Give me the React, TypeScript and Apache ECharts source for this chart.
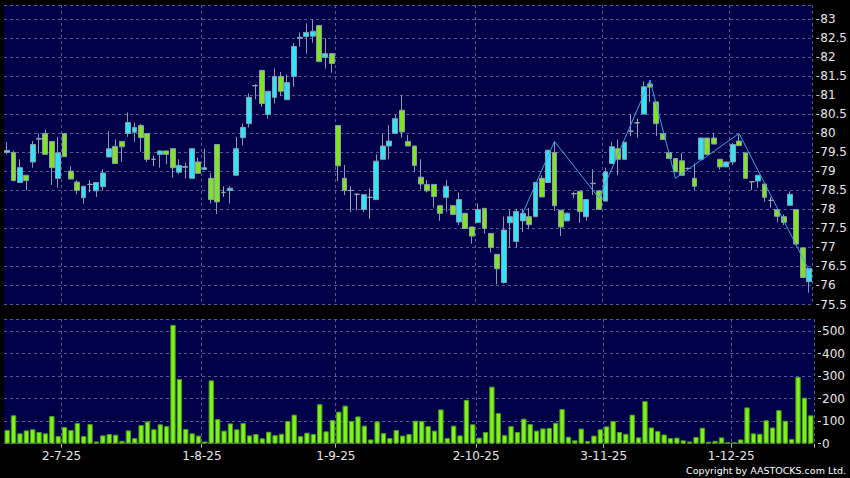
import React, { useEffect, useRef } from "react";
import * as echarts from "echarts";

const dates = [
  "18-6-25","19-6-25","20-6-25","23-6-25","24-6-25","25-6-25","26-6-25","27-6-25","30-6-25",
  "2-7-25","3-7-25","4-7-25","7-7-25","8-7-25","9-7-25","10-7-25","11-7-25","14-7-25","15-7-25","16-7-25","17-7-25","18-7-25","21-7-25","22-7-25","23-7-25","24-7-25","25-7-25","28-7-25","29-7-25","30-7-25","31-7-25",
  "1-8-25","4-8-25","5-8-25","6-8-25","7-8-25","8-8-25","11-8-25","12-8-25","13-8-25","14-8-25","15-8-25","18-8-25","19-8-25","20-8-25","21-8-25","22-8-25","25-8-25","26-8-25","27-8-25","28-8-25","29-8-25",
  "1-9-25","2-9-25","3-9-25","4-9-25","5-9-25","8-9-25","9-9-25","10-9-25","11-9-25","12-9-25","15-9-25","16-9-25","17-9-25","18-9-25","19-9-25","22-9-25","23-9-25","24-9-25","25-9-25","26-9-25","29-9-25","30-9-25",
  "2-10-25","3-10-25","6-10-25","8-10-25","9-10-25","10-10-25","13-10-25","14-10-25","15-10-25","16-10-25","17-10-25","20-10-25","21-10-25","22-10-25","23-10-25","24-10-25","27-10-25","28-10-25","30-10-25","31-10-25",
  "3-11-25","4-11-25","5-11-25","6-11-25","7-11-25","10-11-25","11-11-25","12-11-25","13-11-25","14-11-25","17-11-25","18-11-25","19-11-25","20-11-25","21-11-25","24-11-25","25-11-25","26-11-25","27-11-25","28-11-25",
  "1-12-25","2-12-25","3-12-25","4-12-25","5-12-25","8-12-25","9-12-25","10-12-25","11-12-25","12-12-25","15-12-25","16-12-25","17-12-25"
];

const opens = [
  79.5,79.5,78.71,78.9,79.25,79.85,80.0,79.79,78.82,80.0,
  79.01,78.72,78.31,78.66,78.49,78.6,79.38,79.66,79.79,80.0,
  80.03,80.21,80.0,79.32,79.45,79.54,79.6,78.98,79.11,78.82,
  79.25,79.05,78.82,79.71,78.45,78.5,78.9,79.89,80.26,81.25,
  81.66,80.5,80.95,81.5,80.89,81.5,82.5,82.55,82.56,82.84,
  82.0,82.1,80.21,78.82,78.5,78.4,78.0,78.32,78.26,79.32,
  79.67,80.0,80.61,79.79,79.67,78.85,78.66,78.66,78.1,78.32,
  78.1,77.67,77.9,77.54,77.66,78.03,77.37,76.82,76.08,77.65,
  77.16,77.7,77.81,77.81,78.82,78.71,79.5,77.98,77.7,78.42,
  78.48,77.81,78.68,78.49,78.22,79.21,79.6,79.32,80.06,80.28,
  80.51,81.3,80.83,80.0,79.49,79.34,79.28,79.08,78.82,79.32,
  79.88,79.88,79.32,79.12,79.25,79.8,79.49,78.73,78.75,78.67,
  78.24,78.0,77.81,78.11,78.0,76.99,76.1
];
const closes = [
  79.55,78.76,79.1,78.76,79.71,79.87,79.45,79.1,79.49,79.39,
  78.8,78.5,78.61,78.66,78.71,78.96,79.6,79.21,79.65,80.29,
  80.16,79.89,79.32,79.32,79.54,79.45,79.1,79.16,79.13,79.6,
  78.95,79.1,78.26,78.2,78.45,78.56,79.6,80.16,80.95,81.26,
  80.79,81.11,81.5,81.11,81.34,82.29,82.53,82.66,82.69,81.89,
  82.1,81.84,79.15,78.5,78.5,78.4,78.39,78.32,79.27,79.67,
  79.8,80.39,80.04,79.67,79.16,78.67,78.49,78.34,77.9,78.61,
  77.87,78.26,77.5,77.3,78.0,77.5,77.0,76.44,77.46,77.81,
  77.95,77.9,77.6,78.71,78.33,79.56,78.1,77.54,77.9,78.41,
  77.94,78.26,78.69,78.0,78.99,79.65,79.32,79.77,80.06,80.28,
  81.23,81.22,80.26,79.84,79.34,78.99,78.9,79.08,78.61,79.88,
  79.45,79.72,79.12,79.25,79.71,79.68,78.82,78.73,78.9,78.32,
  78.24,77.82,77.66,78.4,77.09,76.21,76.45
];
const lows = [
  79.45,78.74,78.7,78.5,79.1,79.47,79.45,78.64,78.58,79.39,
  78.8,78.4,78.15,78.45,78.33,78.51,79.38,79.21,79.25,79.91,
  79.78,79.52,79.25,79.14,79.1,79.19,78.84,78.93,78.82,78.82,
  78.95,79.05,78.16,77.88,78.33,78.16,78.9,79.69,80.16,80.9,
  80.7,80.39,80.79,80.98,80.89,81.23,82.28,82.1,82.39,81.89,
  81.71,81.6,78.75,78.38,77.94,77.98,77.94,77.76,78.26,79.32,
  79.32,80.0,79.89,79.67,78.99,78.53,78.45,78.05,77.7,77.94,
  77.85,77.59,77.5,77.1,77.66,77.37,76.87,76.03,76.05,76.99,
  77.0,77.41,77.48,77.81,78.33,78.71,77.96,77.3,77.7,78.3,
  77.65,77.7,78.38,78.0,78.22,79.21,78.9,79.32,79.93,79.89,
  80.51,80.83,79.93,79.84,79.34,78.99,78.9,79.05,78.51,79.32,
  79.45,79.72,79.05,79.12,79.17,79.68,78.82,78.51,78.57,78.2,
  78.05,77.66,77.59,78.11,77.05,76.21,75.81
];
const highs = [
  79.78,79.55,79.32,78.9,79.8,80.0,80.1,79.79,79.91,80.0,
  79.14,78.77,78.62,78.77,78.72,79.06,80.06,79.84,79.79,80.55,
  80.29,80.25,80.0,79.41,79.55,79.55,79.6,79.32,79.23,79.6,
  79.36,79.6,78.95,79.71,78.61,78.61,79.91,80.26,81.05,81.3,
  81.66,81.11,81.71,81.62,81.55,82.38,82.66,82.9,83.0,82.84,
  82.5,82.1,80.21,79.17,78.61,78.42,78.4,78.55,79.45,80.0,
  80.22,80.5,81.01,79.96,79.67,79.32,78.77,78.66,78.1,78.77,
  78.12,78.45,77.9,77.54,78.16,78.03,77.37,76.82,77.81,77.98,
  78.02,78.02,78.04,78.71,78.9,79.56,79.79,77.98,77.92,78.47,
  78.48,78.28,79.06,78.49,79.1,79.78,79.84,79.77,80.5,80.39,
  81.37,81.4,80.83,80.0,79.55,79.34,79.49,79.1,79.21,79.88,
  79.88,80.02,79.32,79.25,79.75,79.97,79.49,78.74,78.9,78.67,
  78.33,78.0,77.87,78.48,78.0,77.0,76.45
];
const volumes = [
  61,126,46,59,64,52,46,123,34,74,
  61,92,34,87,10,37,43,40,13,59,
  25,83,99,64,86,78,527,287,65,46,
  36,10,281,109,58,90,64,92,37,43,
  24,53,38,44,101,129,34,49,43,175,
  55,105,142,169,101,121,80,19,99,47,
  25,61,36,43,102,101,78,58,152,25,
  80,37,194,86,27,52,253,136,38,78,
  52,111,87,58,68,70,93,154,31,15,
  67,12,36,64,77,101,52,44,129,28,
  189,72,56,41,25,27,15,10,30,71,
  9,13,28,6,6,19,161,46,44,104,
  72,149,102,21,296,204,126
];

const zigzagIdx = [81, 86, 93, 101, 105, 115, 126];
const zigzagVal = [77.9, 79.79, 78.3, 81.4, 78.82, 80.0, 76.4];

const monthStartIdx = [9, 31, 52, 74, 94, 114];
const tickLabels = ["2-7-25", "1-8-25", "1-9-25", "2-10-25", "3-11-25", "1-12-25"];

const priceTicks = { min: 75.5, max: 83.38, interval: 0.5 };
const volTicks = { min: 0, max: 553, interval: 100 };

export default function App() {
  const ref = useRef<HTMLDivElement>(null);
  useEffect(() => {
    if (!ref.current) return;
    const chart = echarts.init(ref.current, null, { renderer: "svg" });
    const gridLine = { show: true, lineStyle: { color: "#5a5a92", type: [3, 3] as any, width: 1 } };
    const isMonth = (i: number) => monthStartIdx.includes(i);
    const labelFont = { color: "#e6e6e6", fontSize: 12, fontFamily: "DejaVu Sans" };
    const candleData = opens.map((o, i) => [o, closes[i], lows[i], highs[i]]);
    const zz = zigzagIdx.map((x, k) => [x, zigzagVal[k]]);
    chart.setOption({
      animation: false,
      backgroundColor: "#000000",
      grid: [
        { left: 4, right: 36, top: 5, height: 299.5, show: true, backgroundColor: "#000048", borderWidth: 0 },
        { left: 4, right: 36, top: 319, height: 124.7, show: true, backgroundColor: "#000048", borderWidth: 0 },
      ],
      xAxis: [
        {
          type: "category", gridIndex: 0, data: dates, boundaryGap: true,
          axisLine: { show: false }, axisTick: { show: false }, axisLabel: { show: false },
          splitLine: { ...gridLine, interval: (i: number) => isMonth(i) },
        },
        {
          type: "category", gridIndex: 1, data: dates, boundaryGap: true, offset: 2,
          axisLine: { show: false },
          axisTick: { show: true, interval: (i: number) => isMonth(i), length: 4, lineStyle: { color: "#bbbbbb" } },
          axisLabel: {
            ...labelFont, margin: 4, padding: [0, 6, 0, 0],
            interval: (i: number) => isMonth(i),
            formatter: (_v: string, i: number) => {
              const k = monthStartIdx.indexOf(i);
              return k >= 0 ? tickLabels[k] : "";
            },
          },
          splitLine: { ...gridLine, interval: (i: number) => isMonth(i) },
        },
      ],
      yAxis: [
        {
          type: "value", gridIndex: 0, position: "right", offset: 4, scale: true,
          min: priceTicks.min, max: priceTicks.max, interval: priceTicks.interval,
          axisLine: { show: false },
          axisTick: { show: true, length: 3, lineStyle: { color: "#cccccc" } },
          axisLabel: { ...labelFont, margin: 4, showMaxLabel: false },
          splitLine: gridLine,
        },
        {
          type: "value", gridIndex: 1, position: "right", offset: 4,
          min: volTicks.min, max: volTicks.max, interval: volTicks.interval,
          axisLine: { show: false },
          axisTick: { show: true, length: 3, lineStyle: { color: "#cccccc" } },
          axisLabel: { ...labelFont, margin: 4, showMaxLabel: false },
          splitLine: gridLine,
        },
      ],
      series: [
        {
          type: "candlestick", xAxisIndex: 0, yAxisIndex: 0, data: candleData, barWidth: "84%",
          itemStyle: {
            color: "#30e4f8", color0: "#80e41e",
            borderColor: "#8a9cae", borderColor0: "#8a9cae", borderColorDoji: "#a0a8b8", borderWidth: 1,
          },
        },
        {
          type: "line", xAxisIndex: 0, yAxisIndex: 0, data: zz, showSymbol: false, symbol: "none",
          lineStyle: { color: "#3aa2e4", width: 1 }, z: 5,
        },
        {
          type: "bar", xAxisIndex: 1, yAxisIndex: 1, data: volumes, barWidth: "84%",
          itemStyle: { color: "#7ef21c", borderColor: "#4c9a18", borderWidth: 1 },
        },
      ],
      graphic: [
        {
          type: "text", right: 4, top: 465,
          style: { text: "Copyright by AASTOCKS.com Ltd.", fill: "#ffffff", fontSize: 9.5, fontFamily: "DejaVu Sans" },
        },
      ],
    });
    return () => chart.dispose();
  }, []);
  return (
    <div style={{ position: "fixed", left: 0, top: 0, width: 850, height: 478, background: "#000" }}>
      <div ref={ref} style={{ width: 850, height: 478 }} />
    </div>
  );
}
